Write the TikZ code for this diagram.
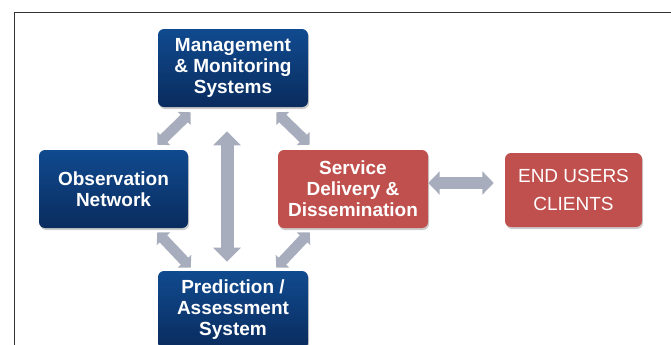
\documentclass[tikz,border=0pt]{standalone}
\usepackage{fontspec}
\setmainfont{Liberation Sans}
\usetikzlibrary{arrows.meta,calc,shadows}
\definecolor{boxbluetop}{RGB}{16,74,143}
\definecolor{boxbluebot}{RGB}{10,44,94}
\definecolor{boxred}{RGB}{192,80,77}
\definecolor{arrowgray}{RGB}{167,173,188}
\definecolor{framegray}{RGB}{51,51,51}

\begin{document}
\begin{tikzpicture}[x=0.75pt,y=0.75pt,yscale=-1,xscale=1,
  boxbase/.style={rounded corners=4.5pt, inner sep=0pt, text=white, align=center,
    minimum width=112.5pt, minimum height=58.5pt,
    drop shadow={shadow xshift=0.8pt, shadow yshift=-1.5pt, opacity=0.2, fill=black}},
  bluebox/.style={boxbase, top color=boxbluetop, bottom color=boxbluebot,
    font=\bfseries\fontsize{14.25}{15.75}\selectfont},
  redbox/.style={boxbase, fill=boxred, font=\bfseries\fontsize{14.25}{15.75}\selectfont},
  userbox/.style={boxbase, fill=boxred, minimum width=102.75pt, minimum height=55.5pt,
    font=\fontsize{14.25}{21}\selectfont},
  diagarrow/.style={draw=arrowgray, line width=7.75pt,
    {Triangle[width=13.5pt,length=6.75pt]}-{Triangle[width=13.5pt,length=6.75pt]}},
  vertarrow/.style={draw=arrowgray, line width=9.75pt,
    {Triangle[width=20pt,length=10.5pt]}-{Triangle[width=20pt,length=10.5pt]}},
  horzarrow/.style={draw=arrowgray, line width=9pt,
    {Triangle[width=17pt,length=8.5pt]}-{Triangle[width=17pt,length=8.5pt]}}
]
\useasboundingbox (0,0) rectangle (671,344);
\clip (0,0) rectangle (671,344);

%Shape: Frame
\draw [framegray, line width=1pt] (14.5,350) -- (14.5,12.5) -- (680,12.5) ;

%Shape: Rounded Rect (blue)
\node [bluebox] (mgmt) at (233,68) {Management\\\& Monitoring\\Systems};
\node [bluebox, minimum width=111.75pt] (obs) at (113.5,189) {Observation\\Network};
\node [bluebox] (pred) at (233,310) {Prediction /\\Assessment\\System};
%Shape: Rounded Rect (red)
\node [redbox] (serv) at (353,189) {Service\\Delivery \&\\Dissemination};
\node [userbox] (users) at (573.5,190) {END USERS\\CLIENTS};

%Double Arrows (diagonal)
\draw [diagarrow] ($(mgmt.south west)+(33,5)$) -- ($(obs.north east)+(-31,-5)$) ;
\draw [diagarrow] ($(mgmt.south east)+(-32,5)$) -- ($(serv.north west)+(32,-5)$) ;
\draw [diagarrow] ($(obs.south east)+(-31,4)$) -- ($(pred.north west)+(33,-3)$) ;
\draw [diagarrow] ($(serv.south west)+(32,4)$) -- ($(pred.north east)+(-32,-3)$) ;
%Double Arrow (vertical)
\draw [vertarrow] ($(mgmt.south)+(-6,24)$) -- ($(pred.north)+(-6,-9)$) ;
%Double Arrow (horizontal)
\draw [horzarrow] ($(serv.east)+(0,-6)$) -- ($(users.west)+(-11,-7)$) ;

\end{tikzpicture}
\end{document}
